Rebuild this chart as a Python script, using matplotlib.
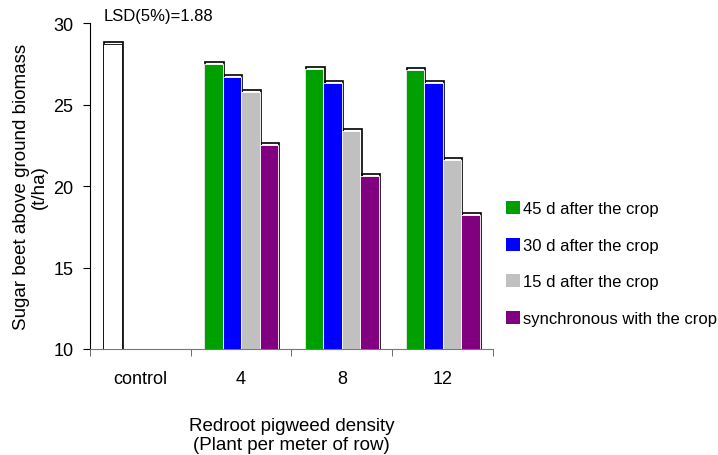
import matplotlib
matplotlib.use("Agg")
import matplotlib.pyplot as plt
from matplotlib.patches import Rectangle
import numpy as np

categories = ["control", "4", "8", "12"]
control_value = 28.7
series_names = ["45 d after the crop", "30 d after the crop",
                "15 d after the crop", "synchronous with the crop"]
series_values = {
    "45 d after the crop": [27.5, 27.2, 27.1],
    "30 d after the crop": [26.7, 26.3, 26.3],
    "15 d after the crop": [25.8, 23.4, 21.6],
    "synchronous with the crop": [22.5, 20.6, 18.2],
}
colors = ["#00a000", "#0000ff", "#c0c0c0", "#800080"]
lsd_text = "LSD(5%)=1.88"

plt.rcParams['font.family'] = ['Liberation Sans', 'DejaVu Sans']

fig = plt.figure(figsize=(7.18, 4.56), dpi=100)
ax = fig.add_axes([0.1253, 0.2325, 0.5613, 0.7145])

ymin = 10
w = 0.184
offsets = np.array([-1.5, -0.5, 0.5, 1.5]) * w
dx, dy = 0.012, 0.12

def shadow_bar(x, h, color, edge):
    # black shadow outline behind bar
    ax.add_patch(Rectangle((x - w / 2 + dx, ymin - dy), w, h - ymin + 2 * dy,
                           facecolor="none", edgecolor="black", lw=1.2, zorder=2))
    ax.bar(x, h - ymin, width=w, bottom=ymin, color=color, edgecolor=edge,
           linewidth=0.6, zorder=3)

# control bar
shadow_bar(0 + offsets[0], control_value, "white", "black")

xs = np.arange(1, len(categories))
handles = []
for i, name in enumerate(series_names):
    for j, v in enumerate(series_values[name]):
        shadow_bar(xs[j] + offsets[i], v, colors[i], "white")
    handles.append(Rectangle((0, 0), 1, 1, facecolor=colors[i], edgecolor="none"))

ax.set_xlim(-0.5, 3.5)
ax.set_ylim(10, 30)
ax.set_yticks([10, 15, 20, 25, 30])
ax.set_xticks(np.arange(len(categories)))
ax.set_xticklabels(categories)
ax.set_xticks([-0.5, 0.5, 1.5, 2.5, 3.5], minor=True)
ax.tick_params(axis="x", which="major", length=0, pad=15, labelsize=13)
ax.tick_params(axis="x", which="minor", length=5, color="#555555", direction="out")
ax.tick_params(axis="y", length=5, direction="out", labelsize=13, pad=7)
ax.spines["top"].set_visible(False)
ax.spines["right"].set_visible(False)
ax.spines["bottom"].set_color("#777777")

ax.set_ylabel("Sugar beet above ground biomass\n(t/ha)", fontsize=13.5,
              labelpad=4, linespacing=1.05)
ax.set_xlabel("Redroot pigweed density\n(Plant per meter of row)", fontsize=13.5,
              labelpad=22, linespacing=1.1)

ax.text(-0.5 + 0.14, 30.0, lsd_text, fontsize=12, va="bottom", ha="left",
        transform=ax.transData, clip_on=False)

fig.legend(handles, series_names, loc="upper left",
           bbox_to_anchor=(0.688, 0.582), frameon=False, fontsize=12,
           handlelength=0.85, handleheight=0.8, handletextpad=0.2,
           labelspacing=1.28, borderpad=0.2)

fig.savefig("out.png", dpi=100)
